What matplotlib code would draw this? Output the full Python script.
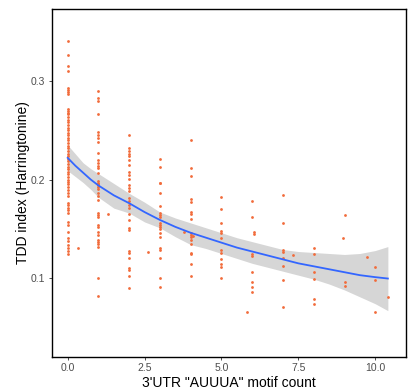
import matplotlib
matplotlib.use("Agg")
import matplotlib.pyplot as plt
import numpy as np

# TDD index per gene, grouped by 3'UTR AUUUA motif count
y_c0 = [0.341, 0.326, 0.315, 0.310, 0.293, 0.291, 0.289, 0.287, 0.272, 0.270, 0.268, 0.266,
        0.263, 0.260, 0.258, 0.255, 0.252, 0.250, 0.247, 0.245, 0.242, 0.240, 0.237, 0.234,
        0.232, 0.229, 0.226, 0.224, 0.221, 0.219, 0.216, 0.213, 0.211, 0.208, 0.206, 0.203,
        0.200, 0.198, 0.195, 0.192, 0.189, 0.186, 0.183, 0.176, 0.174, 0.171, 0.169, 0.166,
        0.157, 0.154, 0.147, 0.141, 0.138, 0.134, 0.131, 0.128, 0.124]
y_c1 = [0.290, 0.283, 0.280, 0.267, 0.248, 0.245, 0.242, 0.238, 0.227, 0.220, 0.217, 0.214,
        0.212, 0.207, 0.197, 0.194, 0.192, 0.199, 0.195, 0.190, 0.186, 0.183, 0.179, 0.166,
        0.164, 0.162, 0.154, 0.152, 0.147, 0.144, 0.139, 0.137, 0.135, 0.132, 0.1006, 0.082]
y_c2 = [0.245, 0.232, 0.229, 0.226, 0.224, 0.220, 0.215, 0.208, 0.205, 0.201, 0.194, 0.191,
        0.188, 0.181, 0.178, 0.174, 0.171, 0.165, 0.159, 0.151, 0.149, 0.128, 0.126, 0.120,
        0.110, 0.108, 0.102, 0.0895]
y_c3 = [0.221, 0.213, 0.197, 0.196, 0.186, 0.173, 0.166, 0.164, 0.162, 0.156, 0.154, 0.152,
        0.150, 0.146, 0.142, 0.131, 0.129, 0.120, 0.0997, 0.0915]
y_c4 = [0.240, 0.212, 0.204, 0.180, 0.177, 0.167, 0.165, 0.160, 0.146, 0.144, 0.142, 0.139,
        0.135, 0.125, 0.124, 0.114, 0.102]
y_c5 = [0.182, 0.170, 0.156, 0.148, 0.146, 0.141, 0.129, 0.126, 0.119, 0.114, 0.111, 0.100]
y_c6 = [0.178, 0.162, 0.124, 0.122, 0.106, 0.0956, 0.0905, 0.0861]
y_c7 = [0.184, 0.156, 0.129, 0.127, 0.120, 0.112, 0.0976, 0.0712]
y_c8 = [0.131, 0.124, 0.106, 0.0996, 0.0793, 0.0733]
y_c9 = [0.164, 0.0962, 0.0919]
y_c10 = [0.111, 0.0976, 0.0656]
# genes with non-integer (averaged) counts
odd_x = [0.33, 1.32, 2.6, 3.78, 4.07, 5.84, 6.05, 6.05, 7.34, 8.96, 9.74, 10.41]
odd_y = [0.131, 0.165, 0.127, 0.147, 0.143, 0.0659, 0.147, 0.145, 0.123, 0.141, 0.121, 0.0804]

# loess fit and its confidence band
fit_x = [0, 0.25, 0.5, 0.75, 1, 1.5, 2, 2.5, 3, 3.5, 4, 4.5, 5, 5.5, 6, 6.5, 7, 7.5, 8,
         8.5, 9, 9.5, 10, 10.41]
fit_y = [0.222, 0.214, 0.207, 0.200, 0.194, 0.184, 0.176, 0.167, 0.159, 0.152, 0.146, 0.141,
         0.136, 0.131, 0.127, 0.123, 0.119, 0.115, 0.112, 0.109, 0.106, 0.103, 0.101, 0.0996]
fit_lo = [0.209, 0.203, 0.197, 0.190, 0.182, 0.171, 0.166, 0.157, 0.151, 0.142, 0.134, 0.130,
          0.125, 0.120, 0.115, 0.111, 0.107, 0.103, 0.099, 0.094, 0.088, 0.081, 0.074, 0.067]
fit_hi = [0.235, 0.226, 0.217, 0.211, 0.206, 0.196, 0.186, 0.177, 0.167, 0.161, 0.156, 0.151,
          0.146, 0.141, 0.137, 0.133, 0.129, 0.127, 0.126, 0.125, 0.124, 0.125, 0.128, 0.132]

xticks = [0.0, 2.5, 5.0, 7.5, 10.0]
yticks = [0.1, 0.2, 0.3]

plt.rcParams['font.family'] = ['Liberation Sans', 'DejaVu Sans']

groups = [y_c0, y_c1, y_c2, y_c3, y_c4, y_c5, y_c6, y_c7, y_c8, y_c9, y_c10]
px = []
py = []
for k, ys in enumerate(groups):
    px += [k] * len(ys)
    py += ys
px += odd_x
py += odd_y

fig = plt.figure(figsize=(4.09, 3.92), dpi=100)
ax = fig.add_axes([0.1264, 0.0893, 0.8663, 0.8877])

ax.fill_between(fit_x, fit_lo, fit_hi, color='#D6D6D6', linewidth=0, zorder=2)
ax.scatter(px, py, s=4, color='#F26B3A', linewidths=0, zorder=3)
ax.plot(fit_x, fit_y, color='#3366FF', linewidth=1.3, zorder=4)

ax.set_xlim(-0.52, 11.0)
ax.set_ylim(0.020, 0.373)
ax.set_xticks(xticks)
ax.set_xticklabels(['%.1f' % v for v in xticks])
ax.set_yticks(yticks)
ax.set_yticklabels(['%.1f' % v for v in yticks])
ax.tick_params(axis='both', length=2.5, width=0.6, color='#333333',
               labelsize=7.5, labelcolor='#4D4D4D', pad=2)
for s in ax.spines.values():
    s.set_linewidth(1.0)
    s.set_color('black')

ax.set_xlabel('3\'UTR "AUUUA" motif count', fontsize=10, labelpad=2)
ax.set_ylabel('TDD index (Harringtonine)', fontsize=10, labelpad=1)

fig.savefig('out.png', dpi=100)
